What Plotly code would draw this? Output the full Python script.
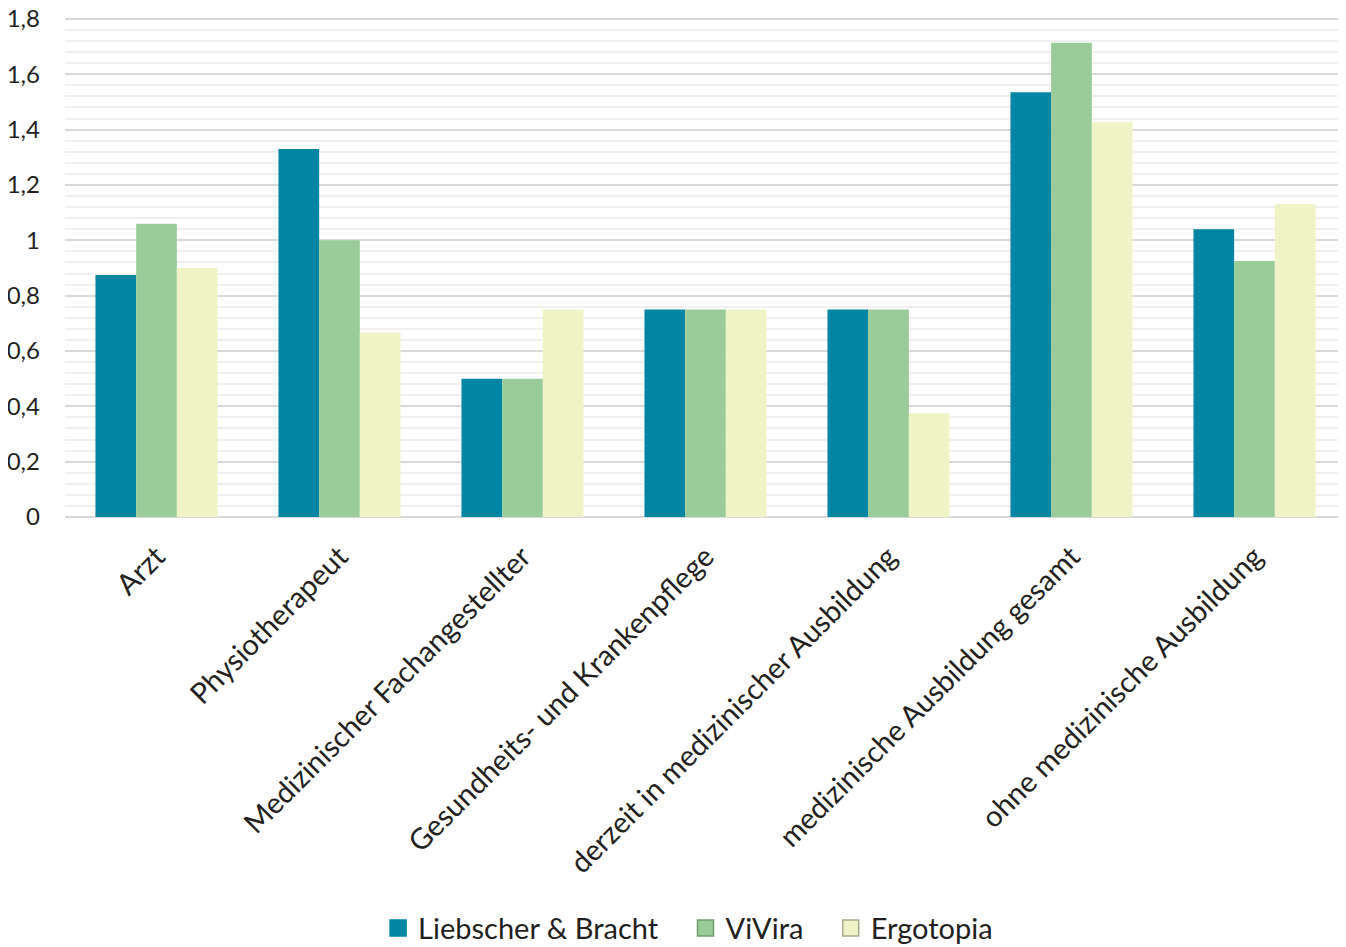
import plotly.graph_objects as go

categories = ["Arzt", "Physiotherapeut", "Medizinischer Fachangestellter",
              "Gesundheits- und Krankenpflege", "derzeit in medizinischer Ausbildung",
              "medizinische Ausbildung gesamt", "ohne medizinische Ausbildung"]
liebscher = [0.875, 1.33, 0.5, 0.75, 0.75, 1.535, 1.04]
vivira = [1.06, 1.0, 0.5, 0.75, 0.75, 1.714, 0.925]
ergotopia = [0.9, 0.667, 0.75, 0.75, 0.375, 1.427, 1.13]
series_names = ["Liebscher & Bracht", "ViVira", "Ergotopia"]
tick_vals = [0, 0.2, 0.4, 0.6, 0.8, 1.0, 1.2, 1.4, 1.6, 1.8]
tick_text = ["0", "0,2", "0,4", "0,6", "0,8", "1", "1,2", "1,4", "1,6", "1,8"]

colors = ["#0085A2", "#99CC99", "#EFF3C6"]
borders = ["#0085A2", "#6E9E6E", "#A8AA8C"]

font_family = "Lato"
pad = "\u00a0\u00a0\u00a0"

fig = go.Figure()
for name, vals, c in zip(series_names, [liebscher, vivira, ergotopia], colors):
    fig.add_trace(go.Bar(x=categories, y=vals, name=name, showlegend=False,
                         marker=dict(color=c, line=dict(width=0))))
# legend entries with square swatches
for name, c, b in zip(series_names, colors, borders):
    fig.add_trace(go.Scatter(x=[None], y=[None], mode="markers", name=name + pad,
                             marker=dict(symbol="square", size=17, color=c,
                                         line=dict(color=b, width=1.5))))

fig.update_layout(
    width=1338, height=939,
    barmode="group", bargap=0.333, bargroupgap=0,
    plot_bgcolor="white", paper_bgcolor="white",
    margin=dict(l=57, r=0, t=9, b=430, autoexpand=False),
    font=dict(family=font_family, size=24, color="#231F20"),
    legend=dict(orientation="h", x=0.495, xanchor="center",
                yref="container", y=0.02, yanchor="middle",
                font=dict(size=29), itemwidth=30, traceorder="normal",
                itemsizing="trace"),
    showlegend=True,
)
fig.update_xaxes(tickangle=-45, showgrid=False, showline=False, ticks="",
                 tickfont=dict(size=29), automargin=False, ticklabelstandoff=16)
fig.update_yaxes(range=[0, 1.807], tickvals=tick_vals, ticktext=tick_text,
                 showgrid=True, gridcolor="#D9D9D9", gridwidth=2,
                 zeroline=True, zerolinecolor="#D9D9D9", zerolinewidth=2,
                 ticklabelstandoff=24, tickfont=dict(size=24), automargin=False,
                 ticklabeloverflow="allow",
                 minor=dict(dtick=0.04, tick0=0, showgrid=True, gridcolor="#F0F0F0", gridwidth=2))

fig.write_html("out.html")
